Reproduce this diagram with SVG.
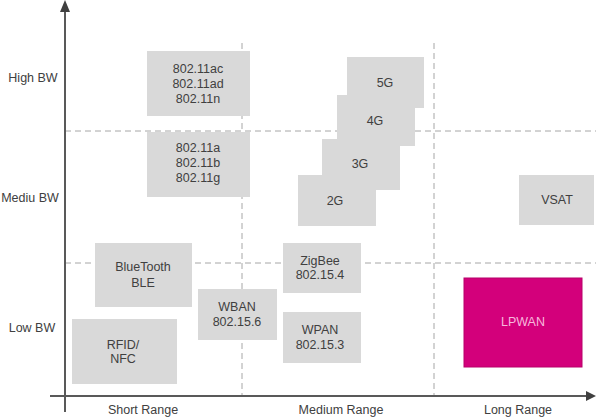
<svg xmlns="http://www.w3.org/2000/svg" width="596" height="417" viewBox="0 0 596 417">
<style>
.box{fill:#d9d9d9}
.t{font-family:"Liberation Sans",Arial,sans-serif;font-size:12.5px;fill:#404040;text-anchor:middle}
.dash{stroke:#a6a6a6;stroke-width:1;stroke-dasharray:6,4;fill:none}
.axis{stroke:#595959;stroke-width:2;fill:none}
</style>
<rect width="596" height="417" fill="#ffffff"/>
<g id="grid">
<line class="dash" x1="65" y1="131" x2="596" y2="131"/>
<line class="dash" x1="65" y1="263" x2="596" y2="263"/>
<line class="dash" x1="242" y1="43" x2="242" y2="396"/>
<line class="dash" x1="434" y1="43" x2="434" y2="396"/>
</g>
<g id="connectors">
<line class="axis" x1="65" y1="10" x2="65" y2="412"/>
<polygon points="65,0 60,12 70,12" fill="#404040"/>
<line class="axis" x1="50" y1="396" x2="588" y2="396"/>
<polygon points="596,396 586,391 586,401" fill="#404040"/>
</g>
<g id="axis-labels">
<text class="t" x="33" y="82">High BW</text>
<text class="t" x="30" y="202">Mediu BW</text>
<text class="t" x="32" y="332">Low BW</text>
<text class="t" x="143" y="414">Short Range</text>
<text class="t" x="341" y="414">Medium Range</text>
<text class="t" x="518" y="414">Long Range</text>
</g>
<g id="n-80211ac"><rect class="box" x="147" y="51" width="103" height="65"/>
<text class="t" x="198" y="73">802.11ac</text><text class="t" x="198" y="88">802.11ad</text><text class="t" x="198" y="103">802.11n</text></g>
<g id="n-80211a"><rect class="box" x="147" y="132" width="103" height="65"/>
<text class="t" x="198" y="152">802.11a</text><text class="t" x="198" y="167">802.11b</text><text class="t" x="198" y="182">802.11g</text></g>
<g id="n-5g"><rect class="box" x="347" y="57" width="77" height="51"/><text class="t" x="385" y="87">5G</text></g>
<g id="n-4g"><rect class="box" x="337" y="95" width="78" height="51"/><text class="t" x="375" y="125">4G</text></g>
<g id="n-3g"><rect class="box" x="322" y="139" width="78" height="51"/><text class="t" x="360" y="168">3G</text></g>
<g id="n-2g"><rect class="box" x="298" y="175" width="78" height="51"/><text class="t" x="335" y="205">2G</text></g>
<g id="n-vsat"><rect class="box" x="519" y="175" width="75" height="50"/><text class="t" x="557" y="204">VSAT</text></g>
<g id="n-bluetooth"><rect class="box" x="95" y="243" width="97" height="64"/>
<text class="t" x="143" y="271">BlueTooth</text><text class="t" x="143" y="286.5">BLE</text></g>
<g id="n-rfid"><rect class="box" x="72" y="319" width="105" height="65"/>
<text class="t" x="123" y="348.5">RFID/</text><text class="t" x="123" y="363">NFC</text></g>
<g id="n-wban"><rect class="box" x="198" y="289" width="79" height="51"/>
<text class="t" x="237" y="311">WBAN</text><text class="t" x="237" y="326">802.15.6</text></g>
<g id="n-zigbee"><rect class="box" x="283" y="243" width="78" height="50"/>
<text class="t" x="320" y="264.5">ZigBee</text><text class="t" x="320" y="279">802.15.4</text></g>
<g id="n-wpan"><rect class="box" x="283" y="312" width="78" height="51"/>
<text class="t" x="320" y="334">WPAN</text><text class="t" x="320" y="349">802.15.3</text></g>
<g id="n-lpwan"><rect x="464" y="278" width="118" height="89" fill="#d3007b" stroke="#b8006a" stroke-width="1"/>
<text class="t" x="523" y="326" style="fill:#f7b8dc">LPWAN</text></g>
</svg>
